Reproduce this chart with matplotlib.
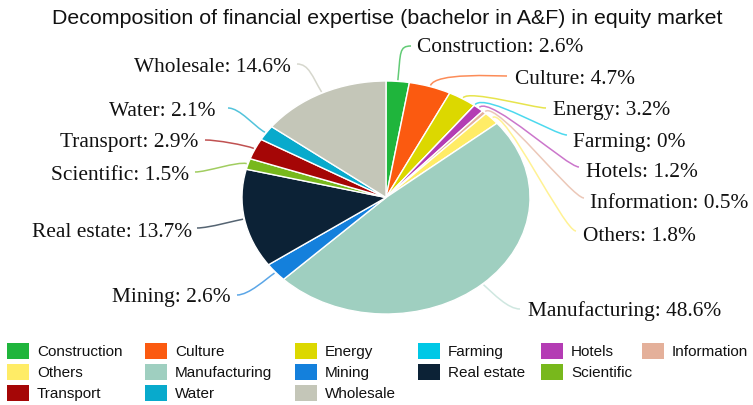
import numpy as np
import matplotlib
matplotlib.use("Agg")
import matplotlib.pyplot as plt
from matplotlib.path import Path
from matplotlib.patches import PathPatch, Rectangle
from matplotlib.colors import to_rgb

W, H = 753, 406

sectors = ["Construction", "Culture", "Energy", "Farming", "Hotels", "Information", "Others",
           "Manufacturing", "Mining", "Real estate", "Scientific", "Transport", "Water", "Wholesale"]
shares = [2.6, 4.7, 3.2, 0.0, 1.2, 0.5, 1.8, 48.6, 2.6, 13.7, 1.5, 2.9, 2.1, 14.6]
colors = ["#1fb53c", "#fb5a10", "#dcd800", "#00c8e6", "#b43cb4", "#e4b09a", "#ffec66",
          "#9fcfc0", "#1480dc", "#0c2236", "#78b81c", "#a50606", "#08aacc", "#c4c6b8"]

# legend rows as in the source figure
legend_rows = [sectors[0:6], sectors[6:11], sectors[11:14]]

# label anchor (top-down pixels), side, line end point
label_pos = {
    "Construction": (417, 47, "left", (411, 47)),
    "Culture": (515, 79, "left", (507, 77)),
    "Energy": (553, 110, "left", (546, 109)),
    "Farming": (573, 142, "left", (567, 136)),
    "Hotels": (586, 173, "left", (579, 168)),
    "Information": (590, 204, "left", (584, 199)),
    "Others": (583, 237, "left", (576, 232)),
    "Manufacturing": (528, 311, "left", (520, 310)),
    "Mining": (231, 298, "right", (237, 296)),
    "Real estate": (192, 233, "right", (197, 229)),
    "Scientific": (189, 176, "right", (195, 173)),
    "Transport": (198, 143, "right", (205, 141)),
    "Water": (215, 111, "right", (228, 109)),
    "Wholesale": (291, 67, "right", (297, 65)),
}
# radial reach of each leader before it bends (pixels)
reach = {"Construction": 28, "Culture": 14, "Energy": 10, "Farming": 16, "Hotels": 16,
         "Information": 16, "Others": 16, "Manufacturing": 14, "Mining": 10,
         "Real estate": 6, "Scientific": 10, "Transport": 10, "Water": 12, "Wholesale": 18}

fig = plt.figure(figsize=(W / 100, H / 100), dpi=100)
ax = fig.add_axes([242 / W, 1 - 315 / H, 288 / W, 233 / H])
wedges, _ = ax.pie(shares, colors=colors, startangle=90, counterclock=False,
                   wedgeprops=dict(edgecolor="white", linewidth=1.0))
ax.set_xlim(-1, 1)
ax.set_ylim(-1, 1)
ax.set_aspect("auto")
ax.axis("off")
fig.canvas.draw()


def lighten(c, f=0.35):
    r, g, b = to_rgb(c)
    return (r + (1 - r) * f, g + (1 - g) * f, b + (1 - b) * f)


angle = 90.0
for name, val, col in zip(sectors, shares, colors):
    mid = np.radians(angle - val * 3.6 / 2)
    angle -= val * 3.6
    x, y, side, end = label_pos[name]
    p0 = ax.transData.transform((np.cos(mid) * 1.01, np.sin(mid) * 1.01))
    d = np.array([np.cos(mid) * 144, np.sin(mid) * 116.5])
    d = d / np.hypot(*d)
    p1 = p0 + d * reach[name]
    p3 = np.array([end[0], H - end[1]])
    sgn = 1 if side == "left" else -1
    p2 = p3 - np.array([sgn * 12, 0])
    path = Path([p0, p1, p2, p3], [Path.MOVETO, Path.CURVE4, Path.CURVE4, Path.CURVE4])
    fig.add_artist(PathPatch(path, transform=None, fill=False,
                             edgecolor=lighten(col, 0.3 if name != "Manufacturing" else 0.5),
                             linewidth=1.1))
    fig.text(x / W, 1 - y / H, f"{name}: {val:g}%", ha=side, va="center",
             family="Liberation Serif", fontsize=15.4, color="#111111")

fig.text(387 / W, 1 - 18 / H,
         "Decomposition of financial expertise (bachelor in A&F) in equity market",
         ha="center", va="center", family="Liberation Sans", fontsize=15.4, color="#111111")

# legend laid out by hand, row by row
col_x = [7, 145, 295, 418, 541, 642]
row_y = [352, 373, 394]
color_of = dict(zip(sectors, colors))
for r, row in enumerate(legend_rows):
    for c, name in enumerate(row):
        sx, sy = col_x[c], row_y[r]
        fig.add_artist(Rectangle((sx / W, 1 - (sy + 8) / H), 22 / W, 16 / H,
                                 transform=fig.transFigure, facecolor=color_of[name],
                                 edgecolor="none"))
        fig.text((sx + 30) / W, 1 - sy / H, name, ha="left", va="center",
                 family="Liberation Sans", fontsize=11, color="#111111")

fig.savefig("out.png", dpi=100)
